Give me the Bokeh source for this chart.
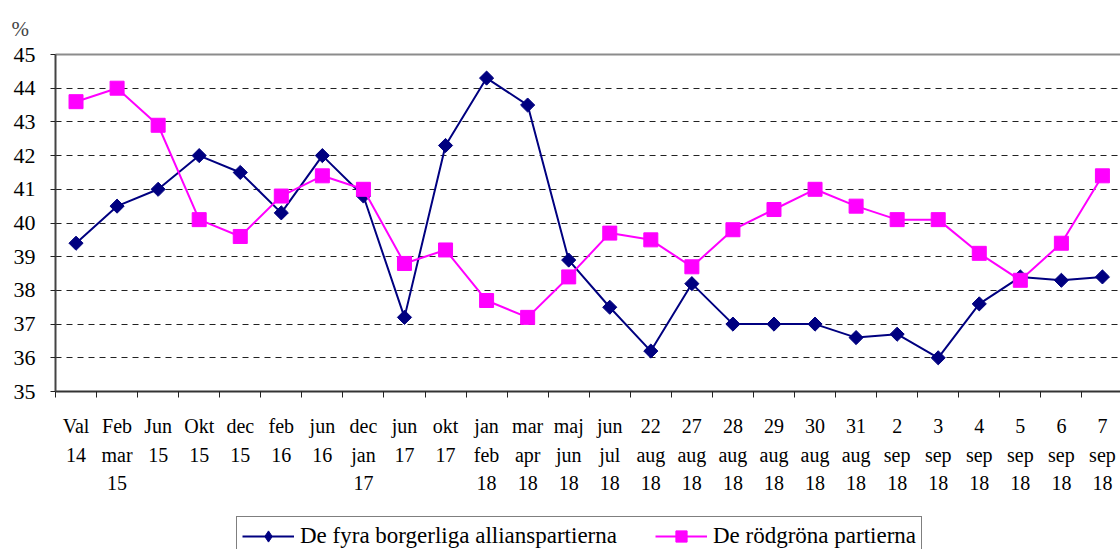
import numpy as np
from bokeh.plotting import figure
from bokeh.layouts import column
from bokeh.models import (Range1d, FixedTicker, LinearAxis, Legend, LegendItem,
                          ColumnDataSource)
from bokeh.embed import file_html
from bokeh.resources import INLINE

# ---- data ----
label_line1 = ["Val", "Feb", "Jun", "Okt", "dec", "feb", "jun", "dec", "jun", "okt",
               "jan", "mar", "maj", "jun", "22", "27", "28", "29", "30", "31",
               "2", "3", "4", "5", "6", "7"]
label_line2 = ["14", "mar", "15", "15", "15", "16", "16", "jan", "17", "17",
               "feb", "apr", "jun", "jul", "aug", "aug", "aug", "aug", "aug", "aug",
               "sep", "sep", "sep", "sep", "sep", "sep"]
label_line3 = ["", "15", "", "", "", "", "", "17", "", "",
               "18", "18", "18", "18", "18", "18", "18", "18", "18", "18",
               "18", "18", "18", "18", "18", "18"]

alliansen = [39.4, 40.5, 41.0, 42.0, 41.5, 40.3, 42.0, 40.8, 37.2, 42.3,
             44.3, 43.5, 38.9, 37.5, 36.2, 38.2, 37.0, 37.0, 37.0, 36.6,
             36.7, 36.0, 37.6, 38.4, 38.3, 38.4]
rodgrona = [43.6, 44.0, 42.9, 40.1, 39.6, 40.8, 41.4, 41.0, 38.8, 39.2,
            37.7, 37.2, 38.4, 39.7, 39.5, 38.7, 39.8, 40.4, 41.0, 40.5,
            40.1, 40.1, 39.1, 38.3, 39.4, 41.4]

series_names = ["De fyra borgerliga allianspartierna", "De rödgröna partierna"]
y_ticks = list(range(35, 46))
unit_label = "%"

FONT = "Liberation Serif"
BLUE = "#000080"
PINK = "#FF00FF"
n = len(label_line1)
xs = list(range(n))
centers = [float(i) for i in xs]
bounds = [i - 0.5 for i in range(n + 1)]

p = figure(width=1120, height=508, output_backend="svg", toolbar_location=None,
           x_range=Range1d(-0.5, 25.44), y_range=Range1d(35, 45),
           x_axis_location=None, y_axis_location=None,
           min_border_left=55, min_border_right=0, min_border_top=54,
           min_border_bottom=117)

# "%" unit as title
p.title.text = unit_label
p.title.text_font = FONT
p.title.text_font_size = "21px"
p.title.text_font_style = "normal"
p.title.align = "left"
p.title.offset = -44
p.title.standoff = 27

p.outline_line_color = None
p.background_fill_color = "white"
p.border_fill_color = "white"

# top border of the plot area (no right border, as in the reference)
top = LinearAxis(ticker=FixedTicker(ticks=[]))
top.axis_line_color = "#8c8c8c"
top.axis_line_width = 2
top.major_tick_line_color = None
top.minor_tick_line_color = None
top.major_label_text_font_size = "0px"
top.major_tick_out = 0
top.minor_tick_out = 0
top.major_label_standoff = 0
p.add_layout(top, "above")

# grid
p.xgrid.visible = False
p.ygrid.ticker = FixedTicker(ticks=y_ticks[1:-1])
p.ygrid.grid_line_color = "#222222"
p.ygrid.grid_line_dash = "6 5"
p.ygrid.grid_line_width = 1

# y axis
yax = LinearAxis(ticker=FixedTicker(ticks=y_ticks))
yax.axis_line_color = "#444444"
yax.axis_line_width = 2
yax.major_tick_line_color = "#222222"
yax.major_tick_out = 5
yax.major_tick_in = 0
yax.minor_tick_line_color = None
yax.major_label_text_font = FONT
yax.major_label_text_font_size = "22px"
yax.major_label_text_color = "black"
yax.major_label_standoff = 15
p.add_layout(yax, "left")

# x axes: main axis carries boundary ticks (as minor ticks) + first label line
lines = [label_line1, label_line2, label_line3]
standoffs = [17, 4, 7]
for k, (labels, so) in enumerate(zip(lines, standoffs)):
    ax = LinearAxis(ticker=FixedTicker(ticks=centers, minor_ticks=bounds if k == 0 else []))
    ax.major_label_overrides = {float(i): t for i, t in enumerate(labels)}
    ax.major_label_text_font = FONT
    ax.major_label_text_font_size = "20px"
    ax.major_label_text_color = "black"
    ax.major_label_standoff = so
    ax.major_tick_out = 0
    ax.major_tick_in = 0
    ax.major_tick_line_color = None
    if k == 0:
        ax.axis_line_color = "#333333"
        ax.axis_line_width = 2
        ax.minor_tick_line_color = "#222222"
        ax.minor_tick_out = 6
        ax.minor_tick_in = 0
    else:
        ax.axis_line_color = None
        ax.minor_tick_line_color = None
        ax.minor_tick_out = 0
        ax.minor_tick_in = 0
    p.add_layout(ax, "below")

src = ColumnDataSource(dict(x=xs, a=alliansen, r=rodgrona))

p.line("x", "a", source=src, line_color=BLUE, line_width=2)
p.scatter("x", "a", source=src, marker="square", angle=np.pi / 4, size=10,
          fill_color=BLUE, line_color=BLUE)
p.line("x", "r", source=src, line_color=PINK, line_width=2)
p.scatter("x", "r", source=src, marker="square", size=14,
          fill_color=PINK, line_color=PINK)

# ---- legend strip below the chart ----
q = figure(width=1120, height=41, output_backend="svg", toolbar_location=None,
           x_range=Range1d(0, 1), y_range=Range1d(0, 1),
           x_axis_location=None, y_axis_location=None,
           min_border_left=0, min_border_right=0, min_border_top=0,
           min_border_bottom=0)
q.outline_line_color = None
q.xgrid.visible = False
q.ygrid.visible = False
q.background_fill_color = "white"
q.border_fill_color = "white"

# legend proxies: one point outside the visible range so the legend can draw glyphs
proxy = ColumnDataSource(dict(x=[-10.0], y=[-10.0]))
ql_a = q.line("x", "y", source=proxy, line_color=BLUE, line_width=2)
qs_a = q.scatter("x", "y", source=proxy, marker="diamond", size=13,
                 fill_color=BLUE, line_color=BLUE)
ql_r = q.line("x", "y", source=proxy, line_color=PINK, line_width=2)
qs_r = q.scatter("x", "y", source=proxy, marker="square", size=14,
                 fill_color=PINK, line_color=PINK)

legend = Legend(items=[LegendItem(label=series_names[0], renderers=[ql_a, qs_a]),
                       LegendItem(label=series_names[1], renderers=[ql_r, qs_r])],
                orientation="horizontal", location=(181, -7))
legend.label_text_font = FONT
legend.label_text_font_size = "23px"
legend.label_text_color = "black"
legend.glyph_width = 52
legend.glyph_height = 28
legend.label_standoff = 6
legend.spacing = 38
legend.padding = 5
legend.margin = 0
legend.border_line_color = "black"
legend.border_line_width = 1
legend.background_fill_color = "white"
legend.background_fill_alpha = 1
q.add_layout(legend, "center")

layout = column(p, q, spacing=0)
open("out.html", "w").write(file_html(layout, INLINE))
